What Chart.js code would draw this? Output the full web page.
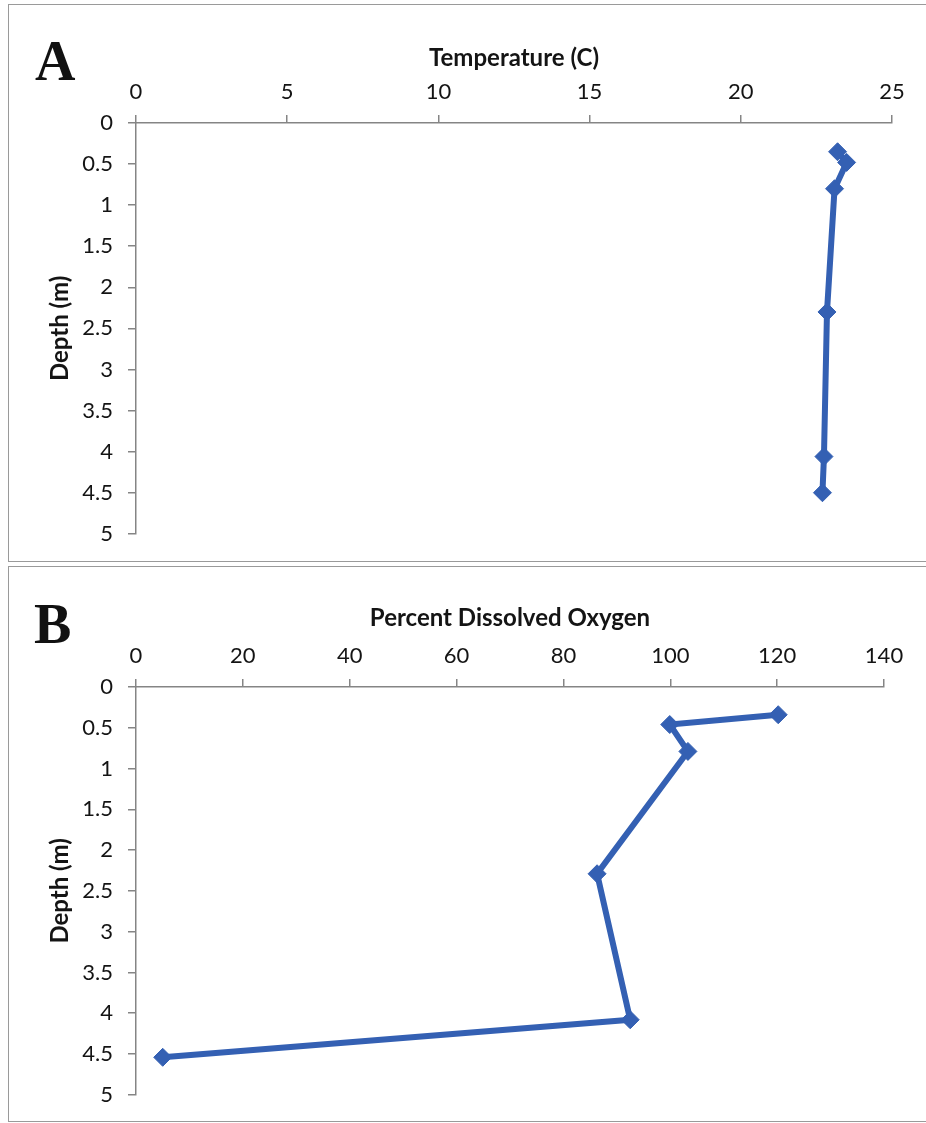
<!DOCTYPE html>
<html>
<head>
<meta charset="utf-8">
<script src="https://cdn.jsdelivr.net/npm/chart.js@4.4.0/dist/chart.umd.min.js"></script>
<style>
  body { margin: 0; background: #fff; }
  #page { position: relative; width: 926px; height: 1123px; overflow: hidden; background: #fff; }
  .panel { position: absolute; left: 8px; width: 940px; box-sizing: border-box; border: 1.5px solid #9a9a9a; }
  #panelA { top: 4px; height: 558px; }
  #panelB { top: 566px; height: 556px; }
  canvas { position: absolute; left: 0; }
  #chartA { top: 0; }
  #chartB { top: 566px; }
  .letter { position: absolute; font: bold 56px "Liberation Serif", "Times New Roman", serif; line-height: 1; color: #111; }
  #letterA { left: 35px; top: 33px; }
  #letterB { left: 34px; top: 596px; }
</style>
</head>
<body>
<div id="page">
  <div class="panel" id="panelA"></div>
  <div class="panel" id="panelB"></div>
  <canvas id="chartA" width="926" height="562"></canvas>
  <canvas id="chartB" width="926" height="557"></canvas>
  <div class="letter" id="letterA">A</div>
  <div class="letter" id="letterB">B</div>
</div>
<script>
// depth axis (shared by both panels)
const depthTicks = [0, 0.5, 1, 1.5, 2, 2.5, 3, 3.5, 4, 4.5, 5];

// panel A - temperature profile
const tempTicks = [0, 5, 10, 15, 20, 25];
const depthA = [0.35, 0.48, 0.8, 2.3, 4.06, 4.5];
const temperature = [23.2, 23.5, 23.1, 22.85, 22.75, 22.7];

// panel B - dissolved oxygen profile
const oxygenTicks = [0, 20, 40, 60, 80, 100, 120, 140];
const depthB = [0.34, 0.46, 0.79, 2.29, 4.08, 4.54];
const oxygen = [120.2, 99.9, 103.3, 86.3, 92.5, 5];

const lineBlue = "#3460b3";
const axisGrey = "#858585";
const tickFont = { family: "Lato, 'Open Sans', sans-serif", size: 22 };
const titleFont = { family: "Lato, 'Open Sans', sans-serif", size: 24, weight: "bold" };

function makeProfile(canvasId, title, xValues, depths, xTicks, box) {
  const points = xValues.map((x, i) => ({ x: x, y: depths[i] }));
  const ctx = document.getElementById(canvasId).getContext("2d");

  return new Chart(ctx, {
    type: "scatter",
    data: {
      datasets: [{
        data: points,
        showLine: true,
        borderColor: lineBlue,
        backgroundColor: lineBlue,
        borderWidth: 6,
        pointStyle: "rectRot",
        pointRadius: 9,
        pointBorderWidth: 1,
        pointBorderColor: lineBlue,
        clip: false,
      }],
    },
    options: {
      responsive: false,
      animation: false,
      devicePixelRatio: 1,
      layout: {
        padding: { left: 0, top: 0, right: box.padRight, bottom: box.padBottom },
      },
      scales: {
        x: {
          type: "linear",
          position: "top",
          min: xTicks[0],
          max: xTicks[xTicks.length - 1],
          afterBuildTicks: (scale) => {
            scale.ticks = xTicks.map((v) => ({ value: v }));
          },
          afterFit: (scale) => {
            scale.height = box.xAxisHeight;
          },
          ticks: {
            callback: (v) => String(v),
            font: tickFont,
            color: "#141414",
            padding: 10,
            maxRotation: 0,
          },
          grid: {
            drawOnChartArea: false,
            drawTicks: true,
            tickLength: 8,
            color: axisGrey,
            lineWidth: 1.5,
          },
          border: { color: axisGrey, width: 1.5 },
          title: {
            display: true,
            text: title,
            font: titleFont,
            color: "#141414",
            padding: { top: box.titleTop, bottom: 0 },
          },
        },
        y: {
          type: "linear",
          reverse: true,
          min: 0,
          max: 5,
          afterBuildTicks: (scale) => {
            scale.ticks = depthTicks.map((v) => ({ value: v }));
          },
          afterFit: (scale) => {
            scale.width = box.yAxisWidth;
          },
          ticks: {
            callback: (v) => String(v),
            font: tickFont,
            color: "#141414",
            padding: 15,
          },
          grid: {
            drawOnChartArea: false,
            drawTicks: true,
            tickLength: 8,
            color: axisGrey,
            lineWidth: 1.5,
          },
          border: { color: axisGrey, width: 1.5 },
          title: {
            display: true,
            text: "Depth (m)",
            font: titleFont,
            color: "#141414",
            padding: { top: 46, bottom: 0 },
          },
        },
      },
      plugins: {
        legend: { display: false },
        tooltip: { enabled: false },
      },
    },
  });
}

makeProfile("chartA", "Temperature (C)", temperature, depthA, tempTicks, {
  xAxisHeight: 123,
  yAxisWidth: 136,
  padRight: 34,
  padBottom: 26,
  titleTop: 44,
});

makeProfile("chartB", "Percent Dissolved Oxygen", oxygen, depthB, oxygenTicks, {
  xAxisHeight: 121,
  yAxisWidth: 136,
  padRight: 42,
  padBottom: 26,
  titleTop: 38,
});
</script>
</body>
</html>
